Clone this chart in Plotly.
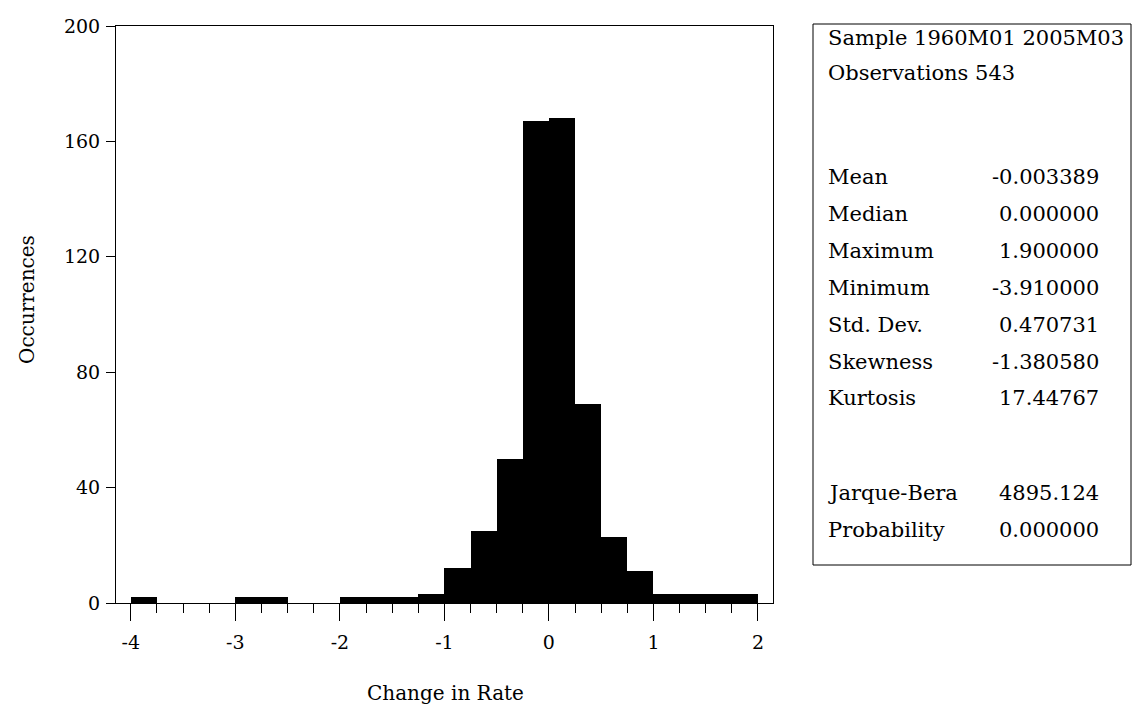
import plotly.graph_objects as go

# Histogram bins (left edges, width 0.25) and their counts
bin_starts = [-4.0, -3.75, -3.5, -3.25, -3.0, -2.75, -2.5, -2.25,
              -2.0, -1.75, -1.5, -1.25, -1.0, -0.75, -0.5, -0.25,
              0.0, 0.25, 0.5, 0.75, 1.0, 1.25, 1.5, 1.75]
bin_width = 0.25
counts = [2, 0, 0, 0, 2, 2, 0, 0,
          2, 2, 2, 3, 12, 25, 50, 167,
          168, 69, 23, 11, 3, 3, 3, 3]

x_tick_vals = [-4, -3, -2, -1, 0, 1, 2]
x_tick_text = ["-4", "-3", "-2", "-1", "0", "1", "2"]
y_tick_vals = [0, 40, 80, 120, 160, 200]
y_tick_text = ["0", "40", "80", "120", "160", "200"]

x_title = "Change in Rate"
y_title = "Occurrences"

sample_text = "Sample 1960M01 2005M03"
obs_text = "Observations 543"
stat_labels = ["Mean", "Median", "Maximum", "Minimum", "Std. Dev.",
               "Skewness", "Kurtosis", "Jarque-Bera", "Probability"]
stat_values = ["-0.003389", "0.000000", "1.900000", "-3.910000", "0.470731",
               "-1.380580", "17.44767", "4895.124", "0.000000"]

# Page geometry
W, H = 1133, 711
ML, MR, MT, MB = 116, 360, 26, 108
PW, PH = W - ML - MR, H - MT - MB
FONT = "DejaVu Serif"


def px(x):
    return (x - ML) / PW


def py(y):
    return (H - MB - y) / PH


centers = [s + bin_width / 2 for s in bin_starts]

fig = go.Figure(
    go.Bar(
        x=centers,
        y=counts,
        width=bin_width,
        marker=dict(color="black", line=dict(width=0)),
        hoverinfo="x+y",
    )
)

axis_common = dict(
    showline=True, linecolor="black", linewidth=1, mirror=True,
    showgrid=False, zeroline=False, ticks="outside", tickcolor="black",
    tickwidth=1, tickfont=dict(family=FONT, size=19, color="black"),
)

fig.update_layout(
    width=W, height=H,
    margin=dict(l=ML, r=MR, t=MT, b=MB, pad=0),
    paper_bgcolor="white", plot_bgcolor="white",
    showlegend=False, bargap=0,
    xaxis=dict(
        range=[-4.142, 2.144], tickmode="array",
        tickvals=x_tick_vals, ticktext=x_tick_text, ticklen=17,
        ticklabelstandoff=5,
        minor=dict(dtick=0.25, tick0=0, ticks="outside", ticklen=9,
                   tickcolor="black", tickwidth=1),
        **axis_common,
    ),
    yaxis=dict(
        range=[0, 200], tickmode="array",
        tickvals=y_tick_vals, ticktext=y_tick_text, ticklen=9,
        ticklabelstandoff=2,
        **axis_common,
    ),
)

annotations = [
    dict(text=x_title, x=px(445), y=py(693), xanchor="center", yanchor="middle",
         font=dict(family=FONT, size=20, color="black")),
    dict(text=y_title, x=px(27), y=py(300), xanchor="center", yanchor="middle",
         textangle=-90, font=dict(family=FONT, size=20, color="black")),
    dict(text=sample_text, x=px(826), y=py(38), xanchor="left", yanchor="middle",
         font=dict(family=FONT, size=21, color="black")),
    dict(text=obs_text, x=px(826), y=py(73), xanchor="left", yanchor="middle",
         font=dict(family=FONT, size=21, color="black")),
]

stat_rows_y = [177, 214, 251, 288, 325, 362, 398, 493, 530]
for label, value, ry in zip(stat_labels, stat_values, stat_rows_y):
    annotations.append(dict(text=label, x=px(826), y=py(ry), xanchor="left",
                            yanchor="middle",
                            font=dict(family=FONT, size=21, color="black")))
    annotations.append(dict(text=value, x=px(1101), y=py(ry), xanchor="right",
                            yanchor="middle",
                            font=dict(family=FONT, size=21, color="black")))

for a in annotations:
    a.update(xref="paper", yref="paper", showarrow=False)
fig.update_layout(annotations=annotations)

# Summary statistics frame
fig.add_shape(type="rect", xref="paper", yref="paper",
              x0=px(813), x1=px(1131), y0=py(565), y1=py(24),
              line=dict(color="black", width=1), fillcolor="rgba(0,0,0,0)")

fig.write_html("out.html")
